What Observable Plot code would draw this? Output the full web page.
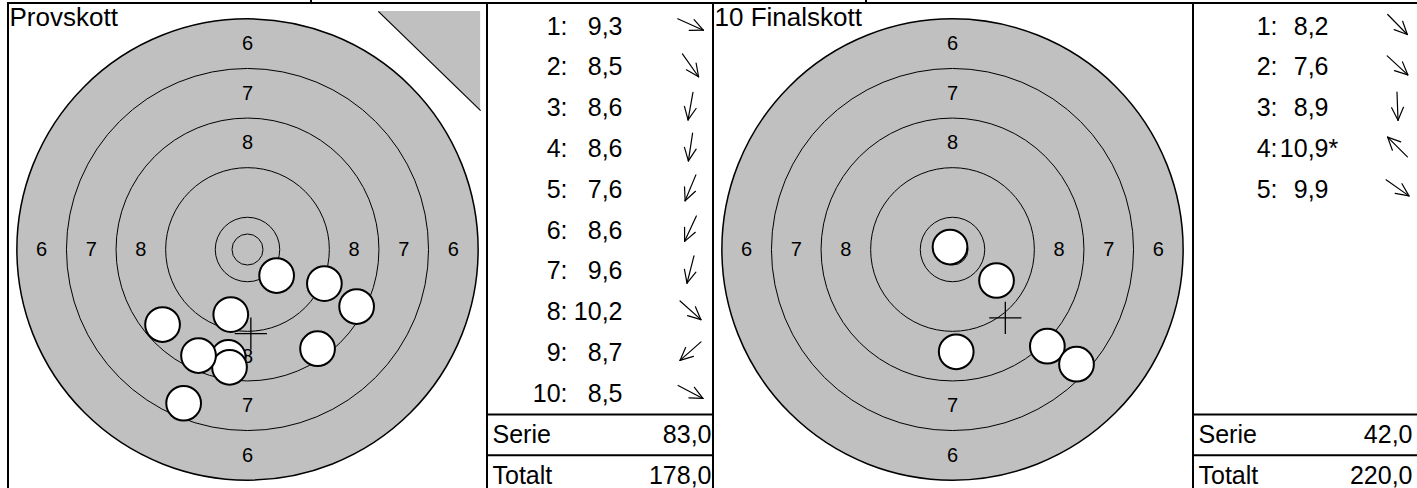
<!DOCTYPE html>
<html><head><meta charset="utf-8">
<script src="https://cdn.jsdelivr.net/npm/d3@7"></script>
<script src="https://cdn.jsdelivr.net/npm/@observablehq/plot@0.6"></script>
<style>
html,body{margin:0;padding:0;background:#fff;}
#page{position:relative;width:1417px;height:488px;overflow:hidden;}
#page svg{position:absolute;top:0;}
.ln{position:absolute;background:#000;z-index:5;}
</style></head><body><div id="page"></div>
<script>
// ---------- data ----------
const SIGHTER_NO = [1, 2, 3, 4, 5, 6, 7, 8, 9, 10];
const SIGHTER_SCORE = [9.3, 8.5, 8.6, 8.6, 7.6, 8.6, 9.6, 10.2, 8.7, 8.5];
const SIGHTER_X_MM = [12.4, 11.3, -3.1, -2.9, -10.3, -7.9, -2.7, 4.7, -13.7, 17.6];
const SIGHTER_Y_MM = [-5.5, -16.0, -17.4, -19.0, -24.8, -17.1, -10.5, -4.2, -12.1, -9.2];
const SIGHTER_FLAG = ["", "", "", "", "", "", "", "", "", ""];
const SIGHTER_SUMS = [83.0, 178.0];

const FINAL_NO = [1, 2, 3, 4, 5];
const FINAL_SCORE = [8.2, 7.6, 8.9, 10.9, 9.9];
const FINAL_X_MM = [15.3, 20.0, 0.6, -0.4, 7.1];
const FINAL_Y_MM = [-15.6, -18.5, -16.5, 0.4, -5.0];
const FINAL_FLAG = ["", "", "", "*", ""];
const FINAL_SUMS = [42.0, 220.0];

const RING_SCORES = [6, 7, 8, 9, 10];
const RING_OUTER_MM = [37.2, 29.2, 21.2, 13.2, 5.2];
const INNER_TEN_MM = 2.5;
const LABELED_RINGS = [6, 7, 8];
const SHOT_RADIUS_MM = 2.8;
const PANEL_TITLES = ["Provskott", "10 Finalskott"];
const SUM_LABELS = ["Serie", "Totalt"];
// sighter corner mark (mm, relative to target centre)
const SIGHTER_MARK = {x0: 21.1, x1: 37.6, yTop: 38.4, yBottom: 22.4};

// ---------- layout ----------
const FONT = "'Liberation Sans', Arial, Helvetica, sans-serif";
const H = 488;
const K = 6.2;          // px per mm
const CY = 249;         // target centre y (px)
const ROW = 40.83;      // table row height (px)
const ROW1 = 26;        // first row centre (px)
const GREY = "#c0c0c0";
const page = document.getElementById("page");

const fmt = v => v.toFixed(1).replace(".", ",");

function shotsOf(no, xs, ys, scores, flags) {
  return no.map((n, i) => ({no: n, x: xs[i], y: ys[i], score: scores[i], flag: flags[i]}));
}
const sighter = shotsOf(SIGHTER_NO, SIGHTER_X_MM, SIGHTER_Y_MM, SIGHTER_SCORE, SIGHTER_FLAG);
const finals = shotsOf(FINAL_NO, FINAL_X_MM, FINAL_Y_MM, FINAL_SCORE, FINAL_FLAG);

const ringLabels = [];
LABELED_RINGS.forEach(s => {
  const i = RING_SCORES.indexOf(s);
  const mid = (RING_OUTER_MM[i] + RING_OUTER_MM[i + 1]) / 2;
  [[mid, 0], [-mid, 0], [0, mid], [0, -mid]].forEach(([x, y]) => ringLabels.push({x, y, t: String(s)}));
});

function target(left, width, cx, shots, title, withSighterMark) {
  const mx = d3.mean(shots, d => d.x), my = d3.mean(shots, d => d.y);
  const arm = 2.6;
  const marks = [
    Plot.dot([RING_OUTER_MM[0]], {x: () => 0, y: () => 0, r: d => d, fill: GREY, stroke: "#000", strokeWidth: 1.5}),
    Plot.dot(RING_OUTER_MM.slice(1).concat([INNER_TEN_MM]), {x: () => 0, y: () => 0, r: d => d, fill: "none", stroke: "#000", strokeWidth: 1}),
    Plot.text(ringLabels, {x: "x", y: "y", text: "t", fontSize: 20, fill: "#000"}),
    Plot.dot(shots, {x: "x", y: "y", r: () => SHOT_RADIUS_MM, fill: "#fff", stroke: "#000", strokeWidth: 2, sort: null}),
    Plot.link([{x1: mx - arm, x2: mx + arm, y1: my, y2: my}, {x1: mx, x2: mx, y1: my - arm, y2: my + arm}],
      {x1: "x1", x2: "x2", y1: "y1", y2: "y2", stroke: "#000", strokeWidth: 1.3}),
    Plot.text([title], {frameAnchor: "top-left", text: d => d, dx: 1, dy: 7, fontSize: 26, fill: "#000"})
  ];
  if (withSighterMark) {
    const m = SIGHTER_MARK;
    marks.push(Plot.areaY([{x: m.x0, y1: m.yTop, y2: m.yTop}, {x: m.x1, y1: m.yTop, y2: m.yBottom}],
      {x: "x", y1: "y1", y2: "y2", fill: GREY}));
    marks.push(Plot.link([{x1: m.x0, y1: m.yTop, x2: m.x1, y2: m.yBottom}],
      {x1: "x1", y1: "y1", x2: "x2", y2: "y2", stroke: "#000", strokeWidth: 1.2}));
  }
  const svg = Plot.plot({
    width, height: H, margin: 0,
    style: {fontFamily: FONT, background: "transparent"},
    x: {domain: [-cx / K, (width - cx) / K], range: [0, width], axis: null},
    y: {domain: [-(H - CY) / K, CY / K], range: [H, 0], axis: null},
    r: {type: "linear", domain: [0, 10], range: [0, 10 * K]},
    marks
  });
  svg.style.left = left + "px";
  page.appendChild(svg);
}

function table(left, width, shots, sums, col) {
  const L = 28, WING = 14, HALF = 25 * Math.PI / 180;
  const rows = shots.map((d, i) => ({row: i + 1, no: d.no + ":", val: fmt(d.score), flag: d.flag, th: Math.atan2(-d.y, d.x)}));
  // arrow segments: shaft + two wings, in (px, row) units
  const segs = [];
  rows.forEach(r => {
    const c = Math.cos(r.th), s = Math.sin(r.th);
    const tx = col.dir + L / 2 * c, ty = L / 2 * s - 2;
    segs.push({x1: col.dir - L / 2 * c, y1: r.row + (-(L / 2 * s) - 2) / ROW, x2: tx, y2: r.row + ty / ROW});
    [-HALF, HALF].forEach(a => {
      const wc = Math.cos(r.th + a), ws = Math.sin(r.th + a);
      segs.push({x1: tx - WING * wc, y1: r.row + (ty - WING * ws) / ROW, x2: tx, y2: r.row + ty / ROW});
    });
  });
  const n = 10;
  const sumRows = SUM_LABELS.map((s, i) => ({row: n + 1 + i, label: s, val: fmt(sums[i])}));
  const svg = Plot.plot({
    width, height: H, margin: 0,
    style: {fontFamily: FONT, background: "transparent"},
    x: {type: "identity", axis: null},
    y: {domain: [0.5, 12.5], range: [ROW1 - ROW / 2, ROW1 - ROW / 2 + 12 * ROW], axis: null},
    marks: [
      Plot.text(rows, {x: () => col.no, y: "row", text: "no", textAnchor: "end", fontSize: 25, fill: "#000"}),
      Plot.text(rows, {x: () => col.val, y: "row", text: "val", textAnchor: "end", fontSize: 25, fill: "#000"}),
      Plot.text(rows, {x: () => col.val, y: "row", text: "flag", textAnchor: "start", fontSize: 25, fill: "#000"}),
      Plot.link(segs, {x1: "x1", x2: "x2", y1: "y1", y2: "y2", strokeWidth: 1.2, stroke: "#000", strokeLinecap: "round"}),
      Plot.ruleY([n + 0.5, n + 1.5], {stroke: "#000", strokeWidth: 2}),
      Plot.text(sumRows, {x: () => col.lab, y: "row", text: "label", textAnchor: "start", fontSize: 25, fill: "#000"}),
      Plot.text(sumRows, {x: () => col.sum, y: "row", text: "val", textAnchor: "end", fontSize: 25, fill: "#000"})
    ]
  });
  svg.style.left = left + "px";
  page.appendChild(svg);
}

target(8, 479, 239, sighter, PANEL_TITLES[0], true);
table(487, 226, sighter, SIGHTER_SUMS, {no: 80, val: 135, dir: 203, lab: 5, sum: 224});
target(713, 480, 239, finals, PANEL_TITLES[1], false);
table(1193, 224, finals, FINAL_SUMS, {no: 84, val: 135, dir: 204, lab: 5, sum: 219});

// frame lines
function line(l, t, w, h) {
  const d = document.createElement("div");
  d.className = "ln";
  Object.assign(d.style, {left: l + "px", top: t + "px", width: w + "px", height: h + "px"});
  page.appendChild(d);
}
line(7, 2, 1410, 2);
[7, 486, 712, 1192].forEach(x => line(x, 2, 2, 486));
[310, 865].forEach(x => line(x, 0, 2, 3));
</script></body></html>
